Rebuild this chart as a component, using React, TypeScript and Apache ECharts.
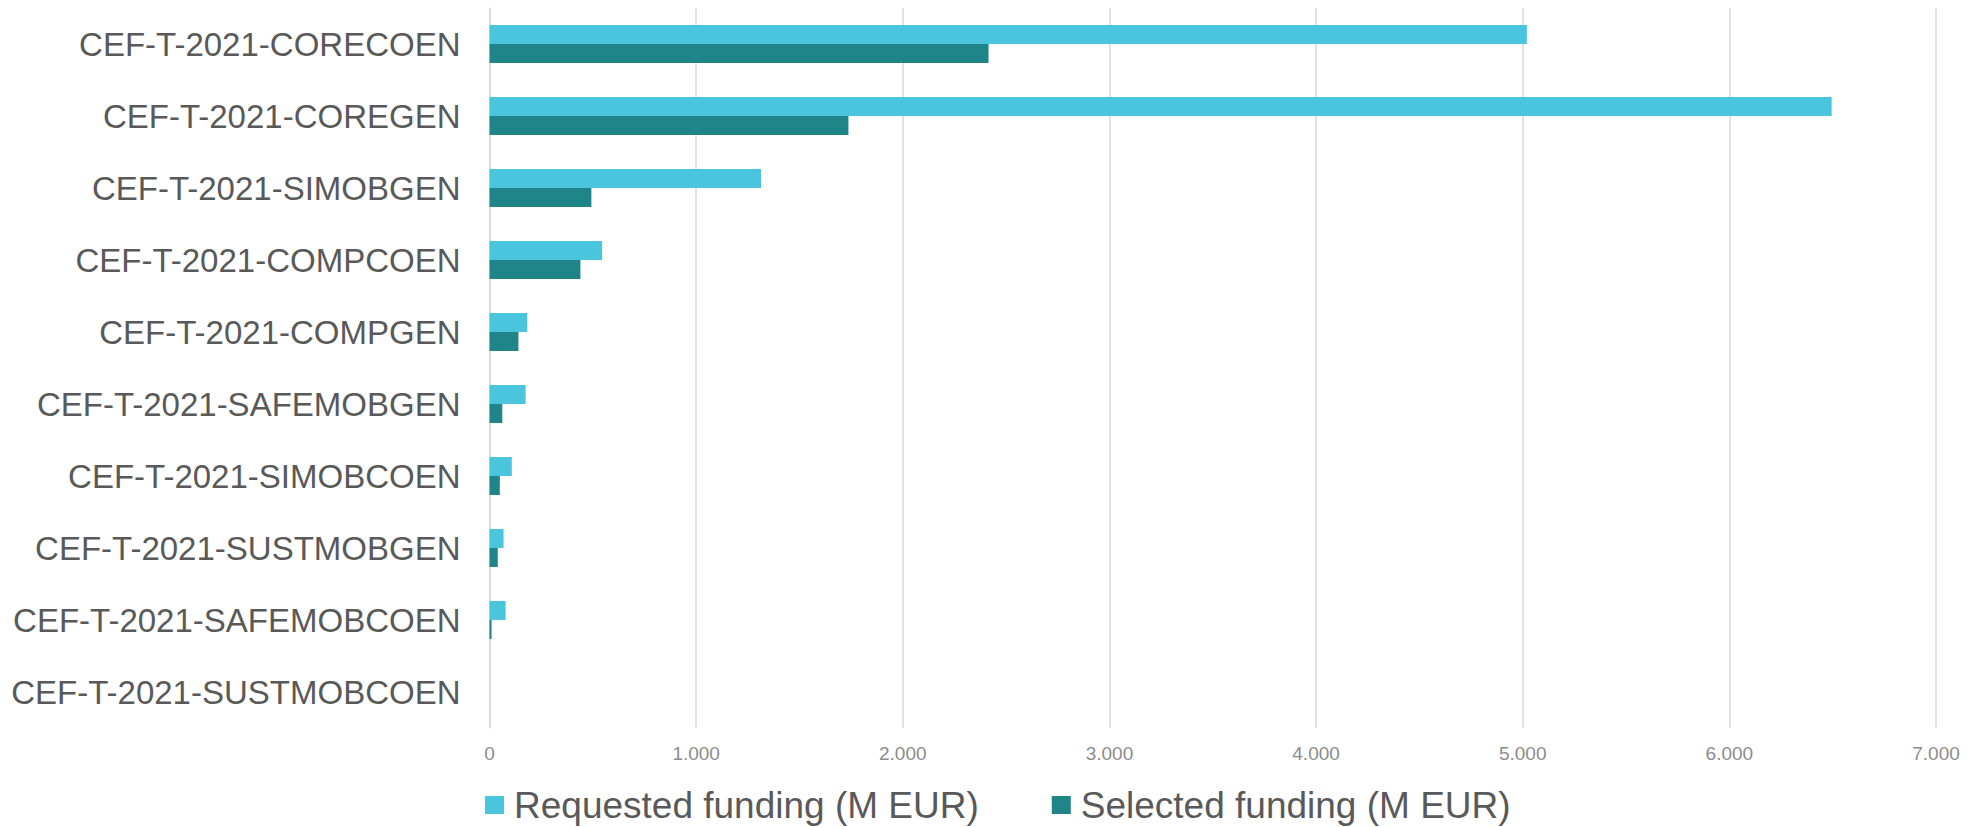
import React, { useEffect, useRef } from "react";
import * as echarts from "echarts";

const categories = [
  "CEF-T-2021-CORECOEN",
  "CEF-T-2021-COREGEN",
  "CEF-T-2021-SIMOBGEN",
  "CEF-T-2021-COMPCOEN",
  "CEF-T-2021-COMPGEN",
  "CEF-T-2021-SAFEMOBGEN",
  "CEF-T-2021-SIMOBCOEN",
  "CEF-T-2021-SUSTMOBGEN",
  "CEF-T-2021-SAFEMOBCOEN",
  "CEF-T-2021-SUSTMOBCOEN",
];

const requested = [5020, 6495, 1314, 545, 183, 175, 108, 68, 78, 0];
const selected = [2415, 1737, 493, 440, 140, 62, 50, 40, 10, 0];

const seriesNames = ["Requested funding (M EUR)", "Selected funding (M EUR)"];
const colors = ["#4BC5DD", "#1F8589"];

const FONT = "'Liberation Sans', Arial, Helvetica, sans-serif";

function fmt(v: number): string {
  return String(Math.round(v)).replace(/\B(?=(\d{3})+(?!\d))/g, ".");
}

export default function App() {
  const ref = useRef<HTMLDivElement>(null);
  useEffect(() => {
    document.body.style.margin = "0";
    if (!ref.current) return;
    const chart = echarts.init(ref.current, undefined, { renderer: "svg" });
    chart.setOption({
      animation: false,
      backgroundColor: "#ffffff",
      textStyle: { fontFamily: FONT },
      color: colors,
      grid: { left: 489.5, right: 43, top: 8, bottom: 99, containLabel: false },
      legend: {
        left: 480,
        top: 779,
        itemWidth: 19,
        itemHeight: 18,
        itemGap: 73,
        icon: "rect",
        textStyle: { fontSize: 37, color: "#595959", fontFamily: FONT, lineHeight: 42, padding: [0, 0, 0, 5] },
        data: seriesNames,
      },
      xAxis: {
        type: "value",
        min: 0,
        max: 7000,
        interval: 1000,
        axisLine: { show: false },
        axisTick: { show: false },
        splitLine: { show: true, lineStyle: { color: "#d9d9d9", width: 1.5 } },
        axisLabel: {
          fontSize: 19,
          color: "#8c8c8c",
          margin: 16,
          fontFamily: FONT,
          formatter: (v: number) => fmt(v),
        },
      },
      yAxis: {
        type: "category",
        inverse: true,
        data: categories,
        axisLine: { show: true, lineStyle: { color: "#d9d9d9", width: 1.5 } },
        axisTick: { show: false },
        axisLabel: { fontSize: 33, color: "#595959", margin: 29, fontFamily: FONT },
      },
      series: [
        {
          name: seriesNames[0],
          type: "bar",
          data: requested,
          barWidth: 19,
          barGap: "0%",
          itemStyle: { color: colors[0] },
        },
        {
          name: seriesNames[1],
          type: "bar",
          data: selected,
          barWidth: 19,
          barGap: "0%",
          itemStyle: { color: colors[1] },
        },
      ],
    });
    return () => chart.dispose();
  }, []);
  return <div ref={ref} style={{ width: 1979, height: 827 }} />;
}
